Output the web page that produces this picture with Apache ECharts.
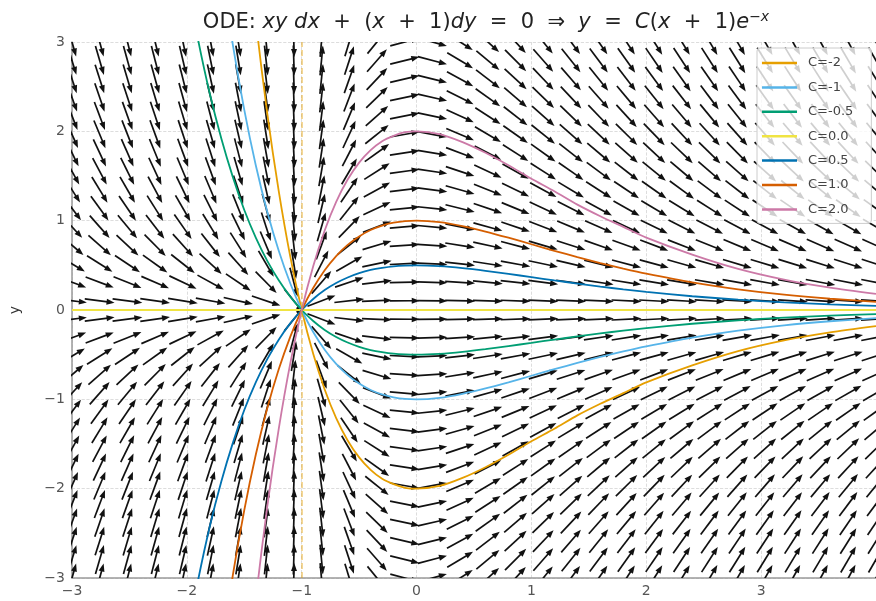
<!DOCTYPE html>
<html>
<head>
<meta charset="utf-8">
<script src="https://cdn.jsdelivr.net/npm/echarts@6/dist/echarts.min.js"></script>
<style>
html,body{margin:0;padding:0;background:#fff;}
#chart{width:876px;height:601px;}
</style>
</head>
<body>
<div id="chart"></div>
<script>
// ---- Data ----
const xTicks = [-3, -2, -1, 0, 1, 2, 3, 4];
const yTicks = [-3, -2, -1, 0, 1, 2, 3];
const singularX = -1;

// direction-field grid (30 x 30)
const fieldX = [-3, -2.759, -2.517, -2.276, -2.034, -1.793, -1.552, -1.310, -1.069, -0.828,
  -0.586, -0.345, -0.103, 0.138, 0.379, 0.621, 0.862, 1.103, 1.345, 1.586,
  1.828, 2.069, 2.310, 2.552, 2.793, 3.034, 3.276, 3.517, 3.759, 4];
const fieldY = [-3, -2.793, -2.586, -2.379, -2.172, -1.966, -1.759, -1.552, -1.345, -1.138,
  -0.931, -0.724, -0.517, -0.310, -0.103, 0.103, 0.310, 0.517, 0.724, 0.931,
  1.138, 1.345, 1.552, 1.759, 1.966, 2.172, 2.379, 2.586, 2.793, 3];

// solution curves y = C(x+1)e^{-x}
const curveX = [-3, -2.5, -2, -1.9, -1.8, -1.7, -1.6, -1.5, -1.4, -1.3, -1.2, -1.1, -1,
  -0.9, -0.8, -0.7, -0.6, -0.5, -0.4, -0.3, -0.2, -0.1, 0,
  0.2, 0.4, 0.6, 0.8, 1, 1.2, 1.4, 1.6, 1.8, 2, 2.4, 2.8, 3.2, 3.6, 4];
const curveNames = ['C=-2', 'C=-1', 'C=-0.5', 'C=0.0', 'C=0.5', 'C=1.0', 'C=2.0'];
const curveColors = ['#E69F00', '#56B4E9', '#009E73', '#F0E442', '#0072B2', '#D55E00', '#CC79A7'];
const curveCm2 = [null, null, null, null, 9.68, 7.66, 5.94, 4.48, 3.24, 2.20, 1.33, 0.60, 0,
  -0.49, -0.89, -1.21, -1.46, -1.65, -1.79, -1.89, -1.95, -1.99, -2,
  -1.97, -1.88, -1.76, -1.62, -1.47, -1.33, -1.18, -1.05, -0.93, -0.81, -0.62, -0.46, -0.34, -0.25, -0.18];
const curveCm1 = [null, null, 7.39, 6.02, 4.84, 3.83, 2.97, 2.24, 1.62, 1.10, 0.664, 0.300, 0,
  -0.246, -0.445, -0.604, -0.729, -0.824, -0.895, -0.945, -0.977, -0.995, -1,
  -0.983, -0.938, -0.878, -0.809, -0.736, -0.663, -0.592, -0.525, -0.463, -0.406, -0.308, -0.231, -0.171, -0.126, -0.092];
const curveCm05 = [null, null, 3.69, 3.01, 2.42, 1.92, 1.49, 1.12, 0.811, 0.550, 0.332, 0.150, 0,
  -0.123, -0.223, -0.302, -0.364, -0.412, -0.448, -0.472, -0.489, -0.497, -0.5,
  -0.491, -0.469, -0.439, -0.404, -0.368, -0.331, -0.296, -0.262, -0.231, -0.203, -0.154, -0.116, -0.086, -0.063, -0.046];
const curveC0 = [0, 0, 0, 0, 0, 0, 0, 0, 0, 0, 0, 0, 0,
  0, 0, 0, 0, 0, 0, 0, 0, 0, 0,
  0, 0, 0, 0, 0, 0, 0, 0, 0, 0, 0, 0, 0, 0, 0];
const curveC05 = [null, null, -3.69, -3.01, -2.42, -1.92, -1.49, -1.12, -0.811, -0.550, -0.332, -0.150, 0,
  0.123, 0.223, 0.302, 0.364, 0.412, 0.448, 0.472, 0.489, 0.497, 0.5,
  0.491, 0.469, 0.439, 0.404, 0.368, 0.331, 0.296, 0.262, 0.231, 0.203, 0.154, 0.116, 0.086, 0.063, 0.046];
const curveC1 = [null, null, -7.39, -6.02, -4.84, -3.83, -2.97, -2.24, -1.62, -1.10, -0.664, -0.300, 0,
  0.246, 0.445, 0.604, 0.729, 0.824, 0.895, 0.945, 0.977, 0.995, 1,
  0.983, 0.938, 0.878, 0.809, 0.736, 0.663, 0.592, 0.525, 0.463, 0.406, 0.308, 0.231, 0.171, 0.126, 0.092];
const curveC2 = [null, null, null, null, -9.68, -7.66, -5.94, -4.48, -3.24, -2.20, -1.33, -0.60, 0,
  0.49, 0.89, 1.21, 1.46, 1.65, 1.79, 1.89, 1.95, 1.99, 2,
  1.97, 1.88, 1.76, 1.62, 1.47, 1.33, 1.18, 1.05, 0.93, 0.81, 0.62, 0.46, 0.34, 0.25, 0.18];
const curveValues = [curveCm2, curveCm1, curveCm05, curveC0, curveC05, curveC1, curveC2];

// ODE: xy dx + (x+1) dy = 0  ->  direction (x+1, -xy)
function fieldSlope(x, y) { return -(x * y) / (x + 1); }

// ---- Build ----
const FONT = 'DejaVu Sans';
const fieldData = [];
fieldX.forEach(x => fieldY.forEach(y => fieldData.push([x, y, fieldSlope(x, y)])));

function arrowItem(params, api) {
  const c = api.coord([api.value(0), api.value(1)]);
  const s = api.value(2);
  const sz = api.size([1, 1]);
  let dx = sz[0], dy = -s * sz[1];
  const n = Math.hypot(dx, dy); dx /= n; dy /= n;
  const L = 30, hl = 8, hw = 3;
  const tail = [c[0] - dx * L / 2, c[1] - dy * L / 2];
  const tip = [c[0] + dx * L / 2, c[1] + dy * L / 2];
  const base = [tip[0] - dx * hl, tip[1] - dy * hl];
  const px = -dy, py = dx;
  return {
    type: 'group',
    children: [
      { type: 'line', shape: { x1: tail[0], y1: tail[1], x2: base[0] + dx, y2: base[1] + dy },
        style: { stroke: '#111', lineWidth: 1.7 } },
      { type: 'polygon', shape: { points: [tip, [base[0] + px * hw, base[1] + py * hw], [base[0] - px * hw, base[1] - py * hw]] },
        style: { fill: '#111' } }
    ]
  };
}

const series = [{
  type: 'custom',
  name: 'field',
  data: fieldData,
  renderItem: arrowItem,
  clip: true,
  silent: true,
  z: 1
}];
curveNames.forEach((nm, i) => {
  series.push({
    type: 'line',
    name: nm,
    data: curveX.map((x, j) => [x, curveValues[i][j]]),
    showSymbol: false,
    smooth: 0.25,
    clip: true,
    color: curveColors[i],
    lineStyle: { width: 1.8, color: curveColors[i] },
    z: 3,
    markLine: i === 0 ? {
      silent: true, symbol: 'none', label: { show: false },
      lineStyle: { color: 'rgba(230,159,0,0.55)', type: 'dashed', width: 1.5 },
      data: [{ xAxis: singularX }]
    } : undefined
  });
});

const minusFmt = v => String(v).replace('-', '\u2212');
const SP = '\u00a0';
const chart = echarts.init(document.getElementById('chart'), null, { renderer: 'canvas' });
chart.setOption({
  animation: false,
  backgroundColor: '#fff',
  title: {
    left: 481, top: 5, textAlign: 'center',
    text: '{n|ODE: }{i|xy' + SP + 'dx}{n|' + SP + SP + '+' + SP + SP + '(}{i|x}{n|' + SP + SP + '+' + SP + SP + '1)}{i|dy}{n|' + SP + SP + '=' + SP + SP + '0' + SP + SP + '\u21d2' + SP + SP + '}{i|y}{n|' + SP + SP + '=' + SP + SP + '}{i|C}{n|(}{i|x}{n|' + SP + SP + '+' + SP + SP + '1)}{i|e}{s|\u2212x}',
    textStyle: {
      fontWeight: 'normal',
      rich: {
        n: { fontFamily: FONT, fontSize: 21, fontWeight: 'normal', color: '#222' },
        i: { fontFamily: FONT, fontSize: 21, fontWeight: 'normal', fontStyle: 'italic', color: '#222' },
        s: { fontFamily: FONT, fontSize: 14, fontWeight: 'normal', fontStyle: 'italic', color: '#222', verticalAlign: 'top', lineHeight: 26 }
      }
    }
  },
  legend: {
    orient: 'vertical', left: 757, top: 48,
    padding: [7, 18, 6, 5],
    itemWidth: 35, itemHeight: 2.5, itemGap: 8.4,
    backgroundColor: 'rgba(255,255,255,0.8)',
    borderColor: '#ccc', borderWidth: 1, borderRadius: 3,
    textStyle: { fontFamily: FONT, fontSize: 13, color: '#444', lineHeight: 16, padding: [0, 0, 0, 6] },
    data: curveNames.map(n => ({ name: n, icon: 'rect' }))
  },
  grid: { left: 68, right: -3, top: 42, bottom: 23, containLabel: false },
  xAxis: {
    type: 'value', min: xTicks[0], max: xTicks[xTicks.length - 1], interval: 1,
    axisLine: { onZero: false, lineStyle: { color: '#9a9a9a', width: 1.5 } },
    axisTick: { show: false },
    axisLabel: { formatter: minusFmt, showMaxLabel: false, fontFamily: FONT, fontSize: 14, color: '#555', margin: 6 },
    splitLine: { show: true, lineStyle: { color: '#d4d4d4', type: 'dashed', width: 0.8 } }
  },
  yAxis: {
    type: 'value', min: yTicks[0], max: yTicks[yTicks.length - 1], interval: 1,
    name: 'y', nameLocation: 'middle', nameGap: 50, nameRotate: 90,
    nameTextStyle: { fontFamily: FONT, fontSize: 14, color: '#333' },
    axisLine: { onZero: false, lineStyle: { color: '#9a9a9a', width: 1.5 } },
    axisTick: { show: false },
    axisLabel: { formatter: minusFmt, fontFamily: FONT, fontSize: 14, color: '#555', margin: 7 },
    splitLine: { show: true, lineStyle: { color: '#d4d4d4', type: 'dashed', width: 0.8 } }
  },
  series: series
});
</script>
</body>
</html>
